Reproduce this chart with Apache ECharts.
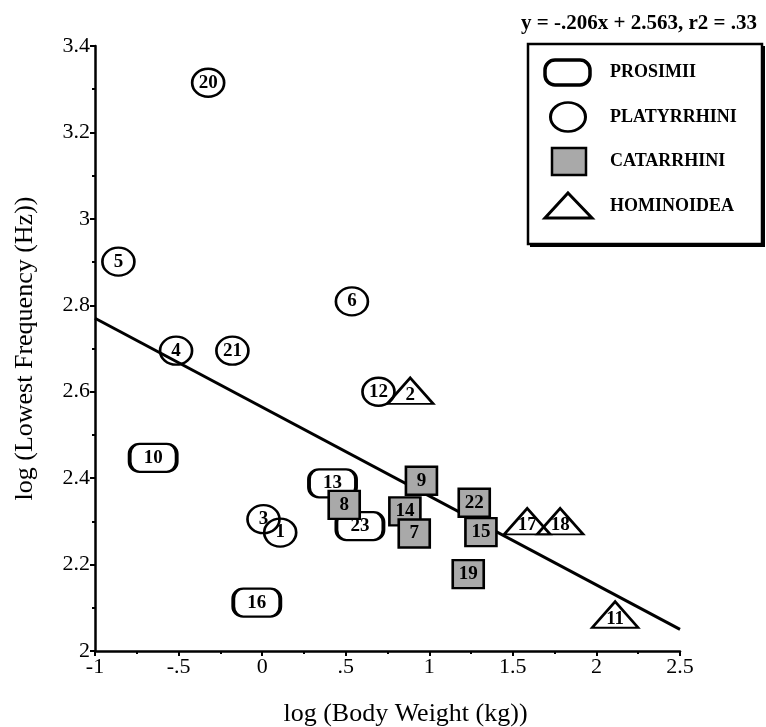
<!DOCTYPE html>
<html>
<head>
<meta charset="utf-8">
<script src="https://cdn.jsdelivr.net/npm/echarts@6/dist/echarts.min.js"></script>
<style>
html,body{margin:0;padding:0;background:#fff;}
#chart{width:766px;height:727px;}
</style>
</head>
<body>
<div id="chart"></div>
<script>
// ---- data ----
const prosimiiIds = ['10', '13', '23', '16'];
const prosimiiX = [-0.652, 0.421, 0.585, -0.032];
const prosimiiY = [2.447, 2.388, 2.289, 2.112];

const platyrrhiniIds = ['20', '5', '6', '4', '21', '12', '3', '1'];
const platyrrhiniX = [-0.323, -0.86, 0.537, -0.515, -0.178, 0.696, 0.008, 0.108];
const platyrrhiniY = [3.315, 2.901, 2.809, 2.695, 2.695, 2.600, 2.305, 2.274];

const catarrhiniIds = ['8', '9', '14', '7', '22', '15', '19'];
const catarrhiniX = [0.491, 0.953, 0.854, 0.910, 1.269, 1.309, 1.233];
const catarrhiniY = [2.338, 2.394, 2.323, 2.272, 2.343, 2.275, 2.178];

const hominoideaIds = ['2', '17', '18', '11'];
const hominoideaX = [0.886, 1.586, 1.783, 2.112];
const hominoideaY = [2.602, 2.300, 2.300, 2.084];

const fitLineX = [-1, 2.5];
const fitLineY = [2.77, 2.05];

const xTickValues = [-1, -0.5, 0, 0.5, 1, 1.5, 2, 2.5];
const xTickLabels = ['-1', '-.5', '0', '.5', '1', '1.5', '2', '2.5'];
const yTickValues = [2, 2.2, 2.4, 2.6, 2.8, 3, 3.2, 3.4];
const yTickLabels = ['2', '2.2', '2.4', '2.6', '2.8', '3', '3.2', '3.4'];

const legendNames = ['PROSIMII', 'PLATYRRHINI', 'CATARRHINI', 'HOMINOIDEA'];
const titleText = 'y = -.206x + 2.563, r2 = .33';
const xName = 'log (Body Weight (kg))';
const yName = 'log (Lowest Frequency (Hz))';

// ---- styling ----
const FONT = 'Liberation Serif';
const ROUND_RECT = 'path://M10,0 H37 A10,10 0 0 1 47,10 V18 A10,10 0 0 1 37,28 H10 A10,10 0 0 1 0,18 V10 A10,10 0 0 1 10,0 Z';
const SQUARE_FILL = '#a9a9a9';

function zip(ids, xs, ys) {
  return ids.map((id, i) => ({ value: [xs[i], ys[i]], name: id }));
}
function lookup(vals, labels, v) {
  for (let i = 0; i < vals.length; i++) if (Math.abs(vals[i] - v) < 1e-6) return labels[i];
  return '';
}
const pointLabel = {
  show: true, position: 'inside', formatter: p => p.name,
  fontFamily: FONT, fontWeight: 'bold', fontSize: 19, color: '#000'
};
const tickLabelStyle = { fontFamily: FONT, fontSize: 22, color: '#000' };

const chart = echarts.init(document.getElementById('chart'), null, { renderer: 'canvas' });
const option = {
  animation: false,
  backgroundColor: '#fff',
  textStyle: { fontFamily: FONT, color: '#000' },
  grid: { left: 95, right: 86, top: 46, bottom: 76, containLabel: false, outerBoundsMode: 'none' },
  xAxis: {
    type: 'value', min: -1, max: 2.5, interval: 0.5,
    name: xName, nameLocation: 'middle', nameGap: 50,
    nameTextStyle: { fontFamily: FONT, fontSize: 26, color: '#000', padding: [0, 0, 0, 36] },
    axisLine: { show: true, onZero: false, lineStyle: { color: '#000', width: 2.5 } },
    axisTick: { show: true, inside: false, length: 5, lineStyle: { color: '#000', width: 2 } },
    minorTick: { show: true, splitNumber: 2, length: 3, lineStyle: { color: '#000', width: 2 } },
    splitLine: { show: false },
    axisLabel: Object.assign({ margin: 5,
      formatter: v => lookup(xTickValues, xTickLabels, v) }, tickLabelStyle)
  },
  yAxis: {
    type: 'value', min: 2, max: 3.4, interval: 0.2,
    name: yName, nameLocation: 'middle', nameGap: 57, nameRotate: 90,
    nameTextStyle: { fontFamily: FONT, fontSize: 26, color: '#000' },
    axisLine: { show: true, onZero: false, lineStyle: { color: '#000', width: 2.5 } },
    axisTick: { show: true, inside: false, length: 5, lineStyle: { color: '#000', width: 2 } },
    minorTick: { show: true, splitNumber: 2, length: 3, lineStyle: { color: '#000', width: 2 } },
    splitLine: { show: false },
    axisLabel: Object.assign({ margin: 5,
      formatter: v => lookup(yTickValues, yTickLabels, v) }, tickLabelStyle)
  },
  title: {
    text: titleText, right: 4, top: 8,
    textStyle: { fontFamily: FONT, fontWeight: 'bold', fontSize: 21, color: '#000' }
  },
  series: [
    {
      type: 'line', name: 'fit', z: 1,
      data: fitLineX.map((x, i) => [x, fitLineY[i]]),
      symbol: 'none', lineStyle: { color: '#000', width: 3 },
      silent: true
    },
    {
      type: 'scatter', name: legendNames[0], z: 2,
      data: zip(prosimiiIds, prosimiiX, prosimiiY),
      symbol: ROUND_RECT, symbolSize: [47, 28],
      itemStyle: { color: '#fff', borderColor: '#000', borderWidth: 3, opacity: 1 },
      label: pointLabel, emphasis: { disabled: true }
    },
    {
      type: 'scatter', name: legendNames[1], z: 3,
      data: zip(platyrrhiniIds, platyrrhiniX, platyrrhiniY),
      symbol: 'circle', symbolSize: [32, 28],
      itemStyle: { color: 'rgba(255,255,255,0)', borderColor: '#000', borderWidth: 2.5, opacity: 1 },
      label: pointLabel, emphasis: { disabled: true }
    },
    {
      type: 'scatter', name: legendNames[2], z: 4,
      data: zip(catarrhiniIds, catarrhiniX, catarrhiniY),
      symbol: 'rect', symbolSize: [31, 28],
      itemStyle: { color: SQUARE_FILL, borderColor: '#000', borderWidth: 2.5, opacity: 1 },
      label: pointLabel, emphasis: { disabled: true }
    },
    {
      type: 'scatter', name: legendNames[3], z: 5,
      data: zip(hominoideaIds, hominoideaX, hominoideaY),
      symbol: 'triangle', symbolSize: [46, 26],
      itemStyle: { color: 'rgba(255,255,255,0)', borderColor: '#000', borderWidth: 2.5, opacity: 1 },
      label: Object.assign({}, pointLabel, { offset: [0, 4] }), emphasis: { disabled: true }
    }
  ],
  graphic: [
    // legend box with drop shadow
    { type: 'rect', z: 50, shape: { x: 530, y: 46, width: 235, height: 201 }, style: { fill: '#000' } },
    { type: 'rect', z: 51, shape: { x: 528, y: 44, width: 234, height: 200 },
      style: { fill: '#fff', stroke: '#000', lineWidth: 2.5 } },
    { type: 'rect', z: 52, shape: { x: 545, y: 60, width: 45, height: 25, r: 10 },
      style: { fill: '#fff', stroke: '#000', lineWidth: 3.5 } },
    { type: 'circle', z: 52, x: 568, y: 117, scaleX: 17.5 / 14.5, scaleY: 1,
      shape: { cx: 0, cy: 0, r: 14.5 },
      style: { fill: '#fff', stroke: '#000', lineWidth: 2.5, strokeNoScale: true } },
    { type: 'rect', z: 52, shape: { x: 552, y: 148, width: 34, height: 27 },
      style: { fill: SQUARE_FILL, stroke: '#000', lineWidth: 2.5 } },
    { type: 'polygon', z: 52, shape: { points: [[568, 193], [592, 218], [545, 218]] },
      style: { fill: '#fff', stroke: '#000', lineWidth: 3 } },
    { type: 'text', z: 52, x: 610, y: 72, style: { text: legendNames[0], font: 'bold 18px ' + FONT, fill: '#000', verticalAlign: 'middle' } },
    { type: 'text', z: 52, x: 610, y: 117, style: { text: legendNames[1], font: 'bold 18px ' + FONT, fill: '#000', verticalAlign: 'middle' } },
    { type: 'text', z: 52, x: 610, y: 161, style: { text: legendNames[2], font: 'bold 18px ' + FONT, fill: '#000', verticalAlign: 'middle' } },
    { type: 'text', z: 52, x: 610, y: 206, style: { text: legendNames[3], font: 'bold 18px ' + FONT, fill: '#000', verticalAlign: 'middle' } }
  ]
};
chart.setOption(option);
</script>
</body>
</html>
